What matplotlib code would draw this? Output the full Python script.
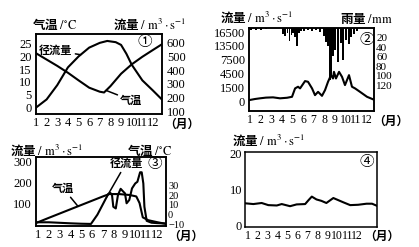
import numpy as np
import matplotlib
matplotlib.use("Agg")
import matplotlib.pyplot as plt

plt.rcParams['font.family'] = ['Liberation Serif', 'Noto Sans CJK SC', 'DejaVu Sans']
plt.rcParams['mathtext.fontset'] = 'stix'

# ---------------- data ----------------
months = list(range(1, 13))
month_labels = [str(m) for m in months]

# panel 1
p1_temp_m = [1, 2, 3, 4, 5, 6, 7, 7.4, 8, 9, 10, 11, 12, 12.9]
p1_temp = [21.3, 18.8, 16.3, 13.6, 10.6, 7.7, 6.1, 5.8, 8.3, 13.2, 16.9, 19.9, 22.6, 25.0]
p1_flow_m = [1, 2, 3, 4, 5, 6, 7, 7.7, 8.5, 9, 9.5, 10, 11, 12, 12.9]
p1_flow = [125, 185, 290, 420, 500, 565, 600, 614, 605, 585, 520, 440, 325, 250, 180]
p1_temp_ticks = [0, 5, 10, 15, 20, 25]
p1_flow_ticks = [100, 200, 300, 400, 500, 600]

# panel 2
p2_flow_m = [0.91, 1.47, 1.94, 2.5, 3.17, 3.83, 4.49, 4.96, 5.25, 5.53, 5.72, 6.19, 6.47,
             6.85, 7.13, 7.42, 7.79, 8.08, 8.36, 8.64, 8.83, 8.92, 9.11, 9.40, 9.68, 9.96,
             10.34, 10.62, 10.91, 11.38, 12.04, 12.79]
p2_flow = [105, 225, 300, 375, 405, 300, 360, 465, 1380, 1620, 1380, 2850, 2700,
           1380, 645, 1005, 570, 1200, 2700, 4140, 3420, 4860, 3420, 4860, 3780, 1980,
           4140, 1620, 1380, 1005, 465, 105]
p2_rain_m = [1.09, 1.57, 2.04, 2.51, 4.11, 4.33, 4.52, 4.71, 4.90, 5.08, 5.27, 5.46, 5.65,
             5.84, 6.09, 6.47, 6.85, 7.23, 7.60, 7.98, 8.17, 8.36, 8.52, 8.67, 8.86, 9.05,
             9.30, 9.56, 9.80, 10.06, 10.31, 10.56, 10.81, 11.07]
p2_rain = [4, 4, 4, 3, 12, 17, 10, 27, 15, 10, 19, 37, 10,
           6, 6, 4, 6, 4, 8, 17, 29, 37, 108, 98, 58, 46,
           71, 31, 67, 25, 33, 19, 12, 6]
p2_flow_ticks = [0, 1500, 4500, 7500, 13500, 16500]
p2_rain_ticks = [20, 40, 60, 80, 100, 120]

# panel 3
p3_flow_m = [0.8, 2, 2.8, 4, 5, 5.9, 6.5, 7, 7.5, 7.7, 7.85, 7.97, 8.2, 8.4, 8.65, 8.9,
             9.05, 9.2, 9.45, 9.7, 10.0, 10.2, 10.45, 10.6, 10.75, 10.85, 11.06, 11.5, 12, 12.9]
p3_flow = [8, 8, 6, 3, 1, 0, 45, 95, 145, 150, 140, 83, 75, 140, 170, 156,
           148, 100, 116, 172, 196, 204, 250, 250, 196, 83, 15, 6, 4, 2]
p3_temp_m = [0.8, 2, 3, 4, 5, 6, 7, 7.6, 8.5, 9.5, 10.1, 10.4, 10.7, 11.2, 12, 12.9]
p3_temp = [-9, -3.5, 1, 5.5, 10, 14.5, 19, 21.5, 21.5, 20.5, 19, 12, -3, -6, -8, -10]
p3_flow_ticks = [100, 200, 300]
p3_temp_ticks = [-10, 0, 10, 20, 30]
p3_temp_labels = ['\u221210', '0', '10', '20', '30']

# panel 4
p4_m = [0.77, 1.54, 2.38, 3.05, 3.9, 4.4, 5.24, 5.9, 6.76, 7.1, 7.43, 7.9, 8.4, 8.9,
        9.6, 10.1, 10.6, 11.3, 12.1, 12.95, 13.5, 14.0]
p4_q = [6.1, 5.9, 6.2, 5.6, 5.5, 5.9, 5.3, 5.8, 5.9, 7.0, 8.0, 7.2, 6.8, 6.2,
        7.6, 7.0, 6.4, 5.6, 5.7, 6.0, 6.0, 5.4]
p4_ticks = [0, 10, 20]

# ---------------- layout helpers ----------------
W, H = 419, 247
fig = plt.figure(figsize=(W / 100, H / 100), dpi=100)


def rect(l, t, r, b):
    return [l / W, 1 - b / H, (r - l) / W, (b - t) / H]


CJK = 'Noto Sans CJK SC'
LW = 1.5
SP = 1.1
TFS = 9


def style(ax, xpad, ypad):
    for s in ax.spines.values():
        s.set_linewidth(SP)
    ax.tick_params(axis='both', length=0, labelsize=TFS, labelfontfamily='Liberation Serif')
    ax.tick_params(axis='x', pad=xpad)
    ax.tick_params(axis='y', pad=ypad)


def title(x, y, s, size=9):
    fig.text(x / W, 1 - y / H, s, ha='left', va='center', fontsize=size,
             family=CJK, weight='bold')


def month_unit(x, y):
    fig.text(x / W, 1 - y / H, '（月）', ha='left', va='center', fontsize=8.5,
             family=CJK, weight='bold')


def piecewise(xs, ys):
    xs = np.asarray(xs, float)
    ys = np.asarray(ys, float)

    def f(v):
        v = np.asarray(v, float)
        lo = ys[0] + (v - xs[0]) * (ys[1] - ys[0]) / (xs[1] - xs[0])
        hi = ys[-1] + (v - xs[-1]) * (ys[-1] - ys[-2]) / (xs[-1] - xs[-2])
        return np.where(v < xs[0], lo, np.where(v > xs[-1], hi, np.interp(v, xs, ys)))
    return f


unit = r"$/\ \mathrm{m^{3}\cdot s^{-1}}$"
degc = r"$/^{\circ}\mathrm{C}$"

# ---------------- panel 1 ----------------
ax1 = fig.add_axes(rect(36, 34, 162, 114))
ax1.plot(p1_temp_m, p1_temp, color='black', lw=LW)
ax1.set_xlim(1.05, 12.85)
ax1.set_ylim(-2.7, 28.9)
ax1.set_xticks(months, month_labels)
ax1.set_yticks(p1_temp_ticks)
style(ax1, 2.5, 3)
ax1r = ax1.twinx()
ax1r.plot(p1_flow_m, p1_flow, color='black', lw=LW)
ax1r.set_ylim(78, 665)
ax1r.set_yticks(p1_flow_ticks)
style(ax1r, 2.5, 3.5)
ax1r.annotate('径流量', xy=(5.2, 513), xytext=(2.87, 542), ha='center', va='center',
              fontsize=8, family=CJK, weight='bold',
              arrowprops=dict(arrowstyle='-', lw=1.1, shrinkA=0, shrinkB=0))
ax1.annotate('气温', xy=(7.6, 6.6), xytext=(9.97, 2.7), ha='center', va='center',
             fontsize=8, family=CJK, weight='bold',
             arrowprops=dict(arrowstyle='-', lw=1.1, shrinkA=0, shrinkB=0))
ax1.text(0.865, 0.9, '①', transform=ax1.transAxes, ha='center', va='center',
         fontsize=10.5, family=CJK)
title(32, 24, "气温 " + degc)
title(113, 24, "流量 " + unit)
month_unit(164, 124)

# ---------------- panel 2 ----------------
ax2 = fig.add_axes(rect(249, 28, 374, 111))
f_fwd = piecewise(p2_flow_ticks, range(len(p2_flow_ticks)))
f_inv = piecewise(range(len(p2_flow_ticks)), p2_flow_ticks)
ax2.set_yscale('function', functions=(f_fwd, f_inv))
ax2.plot(p2_flow_m, p2_flow, color='black', lw=LW)
ax2.set_xlim(0.9, 12.7)
ax2.set_ylim(-1080, 17400)
ax2.set_xticks(months, month_labels)
ax2.set_yticks(p2_flow_ticks, [str(v) for v in p2_flow_ticks])
ax2.yaxis.set_minor_locator(matplotlib.ticker.NullLocator())
style(ax2, 2, 3)
ax2.tick_params(axis='x', labelsize=8.5)
ax2r = ax2.twinx()
ax2r.bar(p2_rain_m, p2_rain, width=0.16, color='black')
ax2r.set_ylim(173, 0)
ax2r.set_yticks(p2_rain_ticks, [str(v) for v in p2_rain_ticks])
style(ax2r, 2, 1.5)
ax2r.tick_params(axis='y', labelsize=8)
ax2r.tick_params(axis='x', labelsize=8.5)
ax2.text(0.944, 0.855, '②', transform=ax2.transAxes, ha='center', va='center',
         fontsize=10.5, family=CJK)
title(220, 17, "流量 " + unit)
title(340, 19, "雨量 " + r"$/\mathrm{mm}$")
month_unit(373, 121)

# ---------------- panel 3 ----------------
ax3 = fig.add_axes(rect(36, 157, 166, 226))
ax3.plot(p3_flow_m, p3_flow, color='black', lw=LW)
ax3.set_xlim(0.81, 12.85)
ax3.set_ylim(-10, 324)
ax3.set_xticks(months, month_labels)
ax3.set_yticks(p3_flow_ticks)
style(ax3, 2.5, 3)
ax3r = ax3.twinx()
ax3r.plot(p3_temp_m, p3_temp, color='black', lw=LW)
ax3r.set_ylim(-12.1, 60.5)
ax3r.set_yticks(p3_temp_ticks, p3_temp_labels)
style(ax3r, 2.5, 1.5)
ax3r.tick_params(axis='y', labelsize=7.5)
ax3.annotate('径流量', xy=(7.35, 130), xytext=(9.15, 294), ha='center', va='center',
             fontsize=8, family=CJK, weight='bold',
             arrowprops=dict(arrowstyle='-', lw=1.1, shrinkA=0, shrinkB=0))
ax3r.annotate('气温', xy=(4.7, 8.6), xytext=(3.3, 27.9), ha='center', va='center',
              fontsize=8, family=CJK, weight='bold',
              arrowprops=dict(arrowstyle='-', lw=1.1, shrinkA=0, shrinkB=0))
ax3.text(0.915, 0.9, '③', transform=ax3.transAxes, ha='center', va='center',
         fontsize=10.5, family=CJK)
title(10, 150, "流量 " + unit)
title(127, 150, "气温 " + degc)
month_unit(168, 236)

# ---------------- panel 4 ----------------
ax4 = fig.add_axes(rect(245, 152, 377, 227))
ax4.plot(p4_m, p4_q, color='black', lw=LW)
ax4.set_xlim(0.7, 14.0)
ax4.set_ylim(-0.56, 20.56)
ax4.set_xticks(months, month_labels)
ax4.set_yticks(p4_ticks)
style(ax4, 2, 2)
ax4.tick_params(axis='x', labelsize=8.5)
ax4.text(0.924, 0.867, '④', transform=ax4.transAxes, ha='center', va='center',
         fontsize=10.5, family=CJK)
title(232, 140, "流量 " + unit)
month_unit(364, 236)

fig.savefig('out.png', dpi=100)
